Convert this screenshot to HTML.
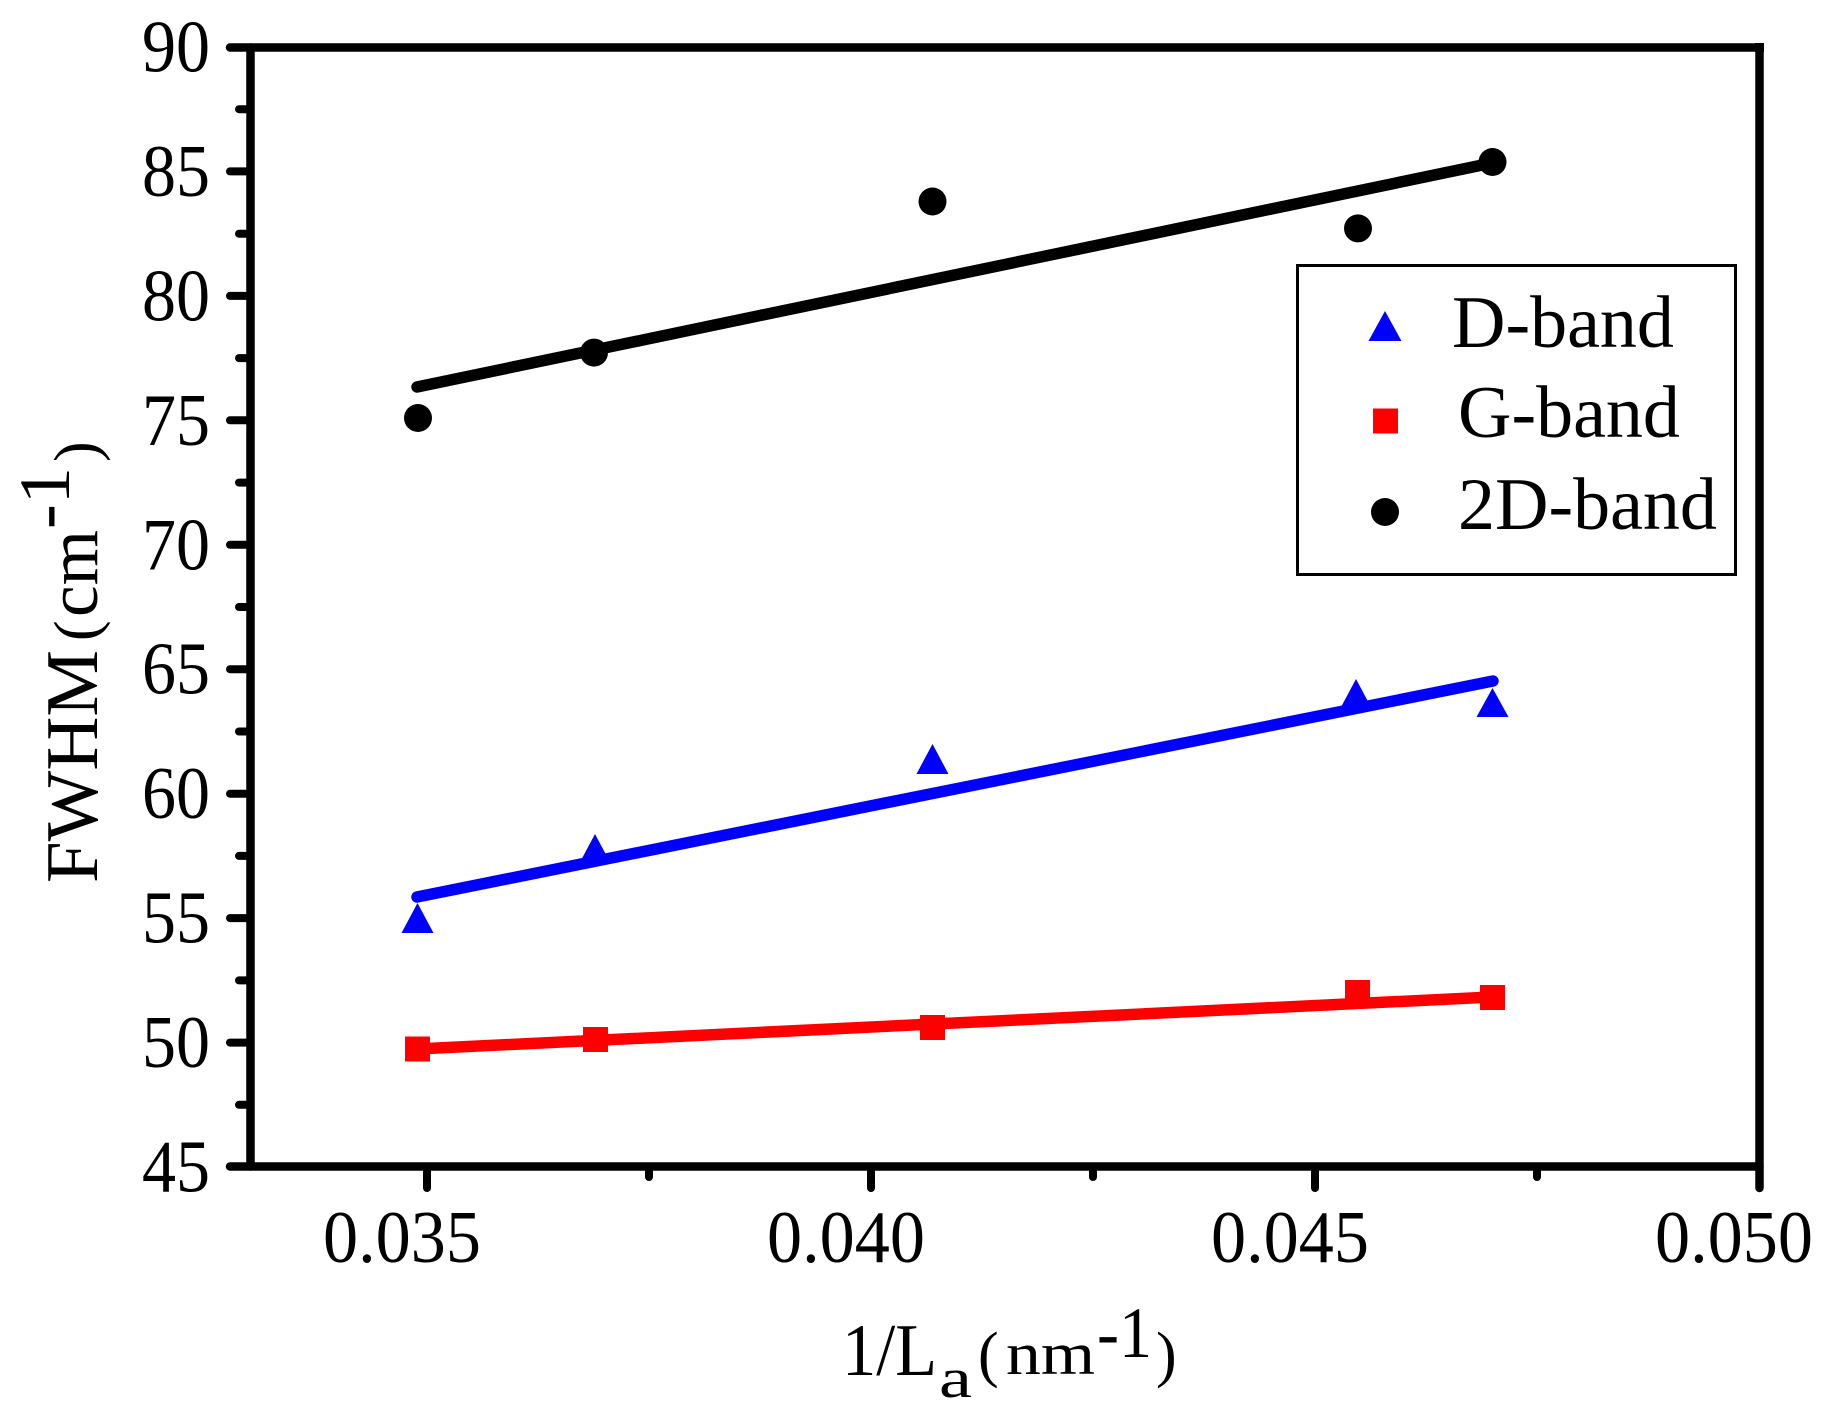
<!DOCTYPE html>
<html>
<head>
<meta charset="utf-8">
<style>
  html,body{margin:0;padding:0;background:#fff;}
  svg{display:block;}
  text{font-family:"Liberation Serif","Times New Roman",serif;fill:#000;}
</style>
</head>
<body>
<svg width="1837" height="1415" viewBox="0 0 1837 1415" xmlns="http://www.w3.org/2000/svg">
  <rect x="0" y="0" width="1837" height="1415" fill="#fff"/>

  <!-- Axes frame -->
  <g stroke="#000" stroke-width="8.5" fill="none" stroke-linecap="round">
    <line x1="230" y1="47.5" x2="1759.5" y2="47.5"/>
    <line x1="250.5" y1="47.5" x2="250.5" y2="1166.5"/>
    <line x1="230" y1="1166.5" x2="1759.5" y2="1166.5"/>
    <line x1="1759.5" y1="47.5" x2="1759.5" y2="1188"/>
  </g>
  <rect x="1755" y="43" width="9" height="9" fill="#000"/>

  <!-- Y ticks -->
  <g stroke="#000" stroke-width="8" stroke-linecap="round">
    <line x1="230" y1="171.4" x2="250" y2="171.4"/>
    <line x1="230" y1="295.9" x2="250" y2="295.9"/>
    <line x1="230" y1="420.3" x2="250" y2="420.3"/>
    <line x1="230" y1="544.8" x2="250" y2="544.8"/>
    <line x1="230" y1="669.2" x2="250" y2="669.2"/>
    <line x1="230" y1="793.7" x2="250" y2="793.7"/>
    <line x1="230" y1="918.1" x2="250" y2="918.1"/>
    <line x1="230" y1="1042.6" x2="250" y2="1042.6"/>
    <!-- minor -->
    <line x1="239" y1="109.2" x2="250" y2="109.2"/>
    <line x1="239" y1="233.7" x2="250" y2="233.7"/>
    <line x1="239" y1="358.1" x2="250" y2="358.1"/>
    <line x1="239" y1="482.6" x2="250" y2="482.6"/>
    <line x1="239" y1="607.0" x2="250" y2="607.0"/>
    <line x1="239" y1="731.5" x2="250" y2="731.5"/>
    <line x1="239" y1="855.9" x2="250" y2="855.9"/>
    <line x1="239" y1="980.4" x2="250" y2="980.4"/>
    <line x1="239" y1="1104.8" x2="250" y2="1104.8"/>
  </g>

  <!-- X ticks -->
  <g stroke="#000" stroke-width="8" stroke-linecap="round">
    <line x1="427" y1="1167" x2="427" y2="1188"/>
    <line x1="871" y1="1167" x2="871" y2="1188"/>
    <line x1="1315" y1="1167" x2="1315" y2="1188"/>
    <line x1="649" y1="1167" x2="649" y2="1177"/>
    <line x1="1093" y1="1167" x2="1093" y2="1177"/>
    <line x1="1537" y1="1167" x2="1537" y2="1177"/>
  </g>

  <!-- Y tick labels -->
  <g font-size="74" text-anchor="end">
    <text x="210" y="71.5" textLength="68" lengthAdjust="spacingAndGlyphs">90</text>
    <text x="210" y="196" textLength="68" lengthAdjust="spacingAndGlyphs">85</text>
    <text x="210" y="320.4" textLength="68" lengthAdjust="spacingAndGlyphs">80</text>
    <text x="210" y="444.8" textLength="68" lengthAdjust="spacingAndGlyphs">75</text>
    <text x="210" y="569.3" textLength="68" lengthAdjust="spacingAndGlyphs">70</text>
    <text x="210" y="693.7" textLength="68" lengthAdjust="spacingAndGlyphs">65</text>
    <text x="210" y="818.2" textLength="68" lengthAdjust="spacingAndGlyphs">60</text>
    <text x="210" y="942.6" textLength="68" lengthAdjust="spacingAndGlyphs">55</text>
    <text x="210" y="1067.1" textLength="68" lengthAdjust="spacingAndGlyphs">50</text>
    <text x="210" y="1191.5" textLength="68" lengthAdjust="spacingAndGlyphs">45</text>
  </g>

  <!-- X tick labels -->
  <g font-size="74">
    <text x="323" y="1262" textLength="158" lengthAdjust="spacingAndGlyphs">0.035</text>
    <text x="767" y="1262" textLength="158" lengthAdjust="spacingAndGlyphs">0.040</text>
    <text x="1211" y="1262" textLength="158" lengthAdjust="spacingAndGlyphs">0.045</text>
    <text x="1655" y="1262" textLength="158" lengthAdjust="spacingAndGlyphs">0.050</text>
  </g>

  <!-- X axis title -->
  <text x="842" y="1375" font-size="74" textLength="95" lengthAdjust="spacingAndGlyphs">1/L</text>
  <text x="939" y="1397" font-size="56" textLength="33" lengthAdjust="spacingAndGlyphs">a</text>
  <text x="978" y="1375" font-size="62">(</text>
  <text x="1006" y="1374" font-size="60" textLength="89" lengthAdjust="spacingAndGlyphs">nm</text>
  <text x="1097" y="1357" font-size="72" textLength="55" lengthAdjust="spacingAndGlyphs">-1</text>
  <text x="1156" y="1375" font-size="62">)</text>

  <!-- Y axis title -->
  <g transform="translate(97,883) rotate(-90)">
    <text x="0" y="0" font-size="74" textLength="233" lengthAdjust="spacingAndGlyphs">FWHM</text>
    <text x="242" y="0" font-size="62">(</text>
    <text x="266" y="0" font-size="72" textLength="87" lengthAdjust="spacingAndGlyphs">cm</text>
    <text x="354" y="-28" font-size="72" textLength="62" lengthAdjust="spacingAndGlyphs">-1</text>
    <text x="421" y="0" font-size="62">)</text>
  </g>

  <!-- Fit lines -->
  <g stroke-width="11.5" stroke-linecap="round" fill="none">
    <line x1="417" y1="387" x2="1492" y2="163" stroke="#000"/>
    <line x1="417" y1="897" x2="1493" y2="681" stroke="#0000ff"/>
    <line x1="417" y1="1049" x2="1492" y2="997" stroke="#ff0000"/>
  </g>

  <!-- 2D-band circles -->
  <g fill="#000">
    <circle cx="418" cy="418" r="14"/>
    <circle cx="594" cy="352.6" r="14"/>
    <circle cx="932.5" cy="201.5" r="14"/>
    <circle cx="1358" cy="228.4" r="14"/>
    <circle cx="1492.5" cy="162" r="14"/>
  </g>

  <!-- D-band triangles -->
  <g fill="#0000ff">
    <polygon points="417.5,903 401.5,933 433.5,933"/>
    <polygon points="595,834 579,864 611,864"/>
    <polygon points="932.5,744 916.5,774 948.5,774"/>
    <polygon points="1356,679 1340,709 1372,709"/>
    <polygon points="1492.5,688 1476.5,717 1508.5,717"/>
  </g>

  <!-- G-band squares -->
  <g fill="#ff0000">
    <rect x="405" y="1036.5" width="25" height="25"/>
    <rect x="583" y="1027" width="25" height="25"/>
    <rect x="920" y="1015" width="25" height="25"/>
    <rect x="1345" y="980" width="25" height="25"/>
    <rect x="1480" y="985" width="25" height="25"/>
  </g>

  <!-- Legend -->
  <rect x="1297.5" y="265.5" width="438" height="309" fill="#fff" stroke="#000" stroke-width="3"/>
  <polygon points="1385,311 1368.5,341 1401.5,341" fill="#0000ff"/>
  <rect x="1373" y="408.5" width="25" height="25" fill="#ff0000"/>
  <circle cx="1385" cy="512" r="14" fill="#000"/>
  <g font-size="74">
    <text x="1452" y="347">D-band</text>
    <text x="1458" y="437">G-band</text>
    <text x="1458" y="529">2D-band</text>
  </g>
</svg>
</body>
</html>
